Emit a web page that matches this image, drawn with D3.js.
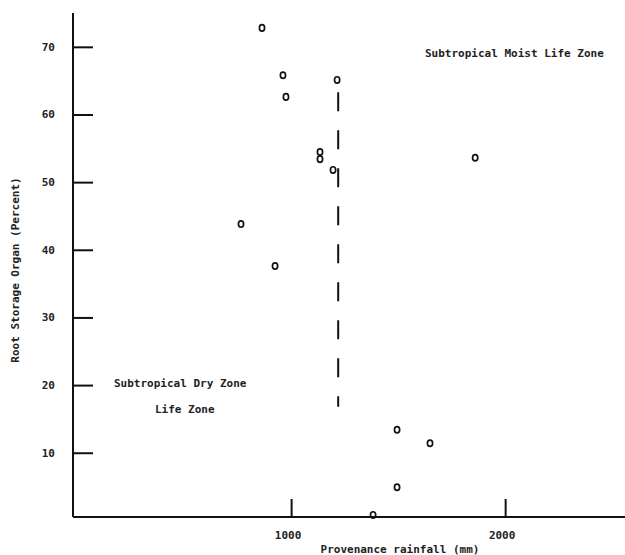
<!DOCTYPE html>
<html>
<head>
<meta charset="utf-8">
<script src="https://cdn.jsdelivr.net/npm/d3@7"></script>
<style>
  body { margin: 0; background: #fff; }
  svg text { font-family: "DejaVu Sans Mono", monospace; font-size: 11px; font-weight: bold; fill: #222; }
</style>
</head>
<body>
<svg id="chart" width="625" height="555"></svg>
<script>
const rainfall = [864, 962, 976, 1215, 1135, 1135, 1196, 1860, 766, 925, 1495, 1649, 1495, 1383]
const rootPct = [72.8, 65.8, 62.6, 65.1, 54.45, 53.4, 51.8, 53.6, 43.8, 37.6, 13.4, 11.4, 4.9, 0.8]
const xTicks = [1000, 2000]
const yTicks = [10, 20, 30, 40, 50, 60, 70]
const yTickLabels = ["10", "20", "30", "40", "50", "60", "70"]
const boundaryX = 1220,
    boundaryTop = 63.3,
    boundaryBottom = 16.8

const svg = d3.select('#chart')

const x = d3.scaleLinear().domain([-19, 2560]).range([73, 625])
const y = d3.scaleLinear().domain([0.5, 75]).range([517, 13])

// axes - ticks point inward like the typed original
const xAxis = d3.axisTop(x).tickValues(xTicks).tickSize(18).tickFormat('')
const yAxis = d3.axisRight(y).tickValues(yTicks).tickSize(20).tickFormat('')

svg.append('g')
    .attr('transform', `translate(0,${y(0.5)})`)
    .call(xAxis)
    .call(g => g.select('.domain').attr('stroke', '#111').attr('stroke-width', 2).attr('d', `M${x.range()[0]},0H${x.range()[1]}`))
    .call(g => g.selectAll('.tick line').attr('stroke', '#111').attr('stroke-width', 2))

svg.append('g')
    .attr('transform', `translate(${x(-19)},0)`)
    .call(yAxis)
    .call(g => g.select('.domain').attr('stroke', '#111').attr('stroke-width', 2).attr('d', `M0,${y.range()[1]}V${y.range()[0]}`))
    .call(g => g.selectAll('.tick line').attr('stroke', '#111').attr('stroke-width', 2))

// tick labels
svg.append('g').selectAll('text')
    .data(yTicks)
    .join('text')
    .attr('x', 55)
    .attr('y', d => y(d) + 4)
    .attr('text-anchor', 'end')
    .text((d, i) => yTickLabels[i])

svg.append('g').selectAll('text')
    .data(xTicks)
    .join('text')
    .attr('x', d => x(d) - 3)
    .attr('y', 539)
    .attr('text-anchor', 'middle')
    .text(d => d)

// axis titles
svg.append('text')
    .attr('x', 400)
    .attr('y', 553)
    .attr('text-anchor', 'middle')
    .text('Provenance rainfall (mm)')

svg.append('text')
    .attr('transform', 'translate(19,270) rotate(-90)')
    .attr('text-anchor', 'middle')
    .text('Root Storage Organ (Percent)')

// zone boundary
svg.append('line')
    .attr('x1', x(boundaryX)).attr('x2', x(boundaryX))
    .attr('y1', y(boundaryTop)).attr('y2', y(boundaryBottom))
    .attr('stroke', '#111')
    .attr('stroke-width', 2)
    .attr('stroke-dasharray', '19,19')

// points
svg.append('g').selectAll('ellipse')
    .data(rainfall.map((d, i) => [d, rootPct[i]]))
    .join('ellipse')
    .attr('cx', d => x(d[0]))
    .attr('cy', d => y(d[1]))
    .attr('rx', 2.6)
    .attr('ry', 3.2)
    .attr('fill', 'none')
    .attr('stroke', '#111')
    .attr('stroke-width', 1.7)

// zone labels
svg.append('text').attr('x', 425).attr('y', 57).text('Subtropical Moist Life Zone')
svg.append('text').attr('x', 114).attr('y', 387).text('Subtropical Dry Zone')
svg.append('text').attr('x', 155).attr('y', 413).text('Life Zone')
</script>
</body>
</html>
